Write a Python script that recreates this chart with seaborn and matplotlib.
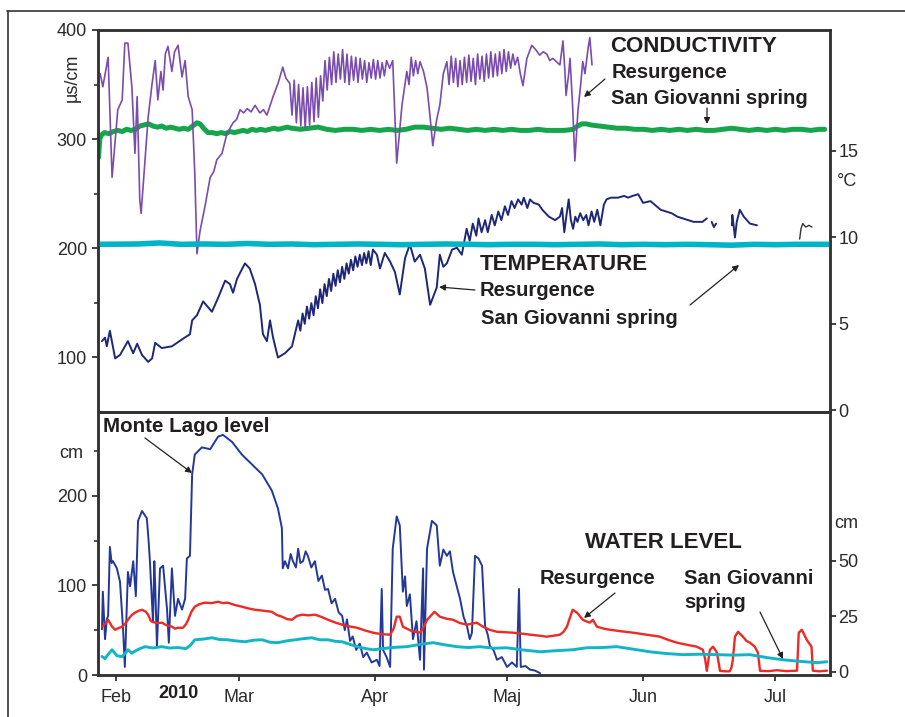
import numpy as np
import pandas as pd
import matplotlib
matplotlib.use("Agg")
import matplotlib.pyplot as plt
import matplotlib.dates as mdates
from matplotlib.ticker import FixedLocator, FuncFormatter
from matplotlib.lines import Line2D
import seaborn as sns

sns.set_theme(style="white")
plt.rcParams["font.family"] = ["Liberation Sans", "DejaVu Sans"]

# ---------------- data (days counted from 1 Feb 2010) ----------------
month_labels = ["Feb", "Mar", "Apr", "Maj", "Jun", "Jul"]

# Conductivity, Resurgence (µS/cm)
cond_res_day = [-3.5, -2.9, -1.7, -0.8, -0.1, 0.5, 1.5, 2.1, 2.8, 3.7, 4.4, 4.9, 5.5, 5.8, 6.7, 7.4, 8.3, 9.0, 9.6,
                10.3, 10.8, 11.3, 11.9, 12.8, 13.4, 14.2, 15.1, 15.8, 16.5, 17.4, 18.0, 18.5, 19.2, 20.3, 21.5, 22.3,
                23.0, 24.2, 25.3, 26.0, 26.7, 27.5, 28.3, 29.1, 29.9, 30.8, 31.7, 32.8, 33.6, 34.4, 35.8, 37.0, 38.0,
                38.7, 39.6, 40.1, 40.6, 41.1, 41.6, 42.1, 42.6, 43.1, 43.6, 44.1, 44.6, 45.1, 45.6, 46.1, 46.6, 47.1,
                47.6, 48.1, 48.6, 49.1, 49.6, 50.1, 50.6, 51.1, 51.6, 52.1, 52.6, 53.1, 53.6, 54.1, 54.6, 55.1, 55.6,
                56.1, 56.6, 57.1, 57.6, 58.1, 58.6, 59.1, 59.6, 60.1, 60.6, 61.1, 61.6, 62.3, 63.0, 63.9, 65.1, 65.6,
                66.2, 66.7, 67.2, 67.7, 68.2, 68.7, 69.2, 70.0, 70.8, 71.5, 72.1, 73.0, 73.7, 74.5, 75.3, 75.8, 76.3,
                76.8, 77.3, 77.8, 78.3, 78.8, 79.3, 79.8, 80.3, 80.8, 81.3, 81.8, 82.3, 82.8, 83.3, 83.8, 84.3, 84.8,
                85.3, 85.8, 86.3, 86.8, 87.3, 87.8, 88.3, 88.8, 89.3, 89.8, 90.3, 90.8, 91.4, 92.0, 92.6, 93.5, 94.6,
                95.5, 96.4, 97.2, 98.0, 98.7, 99.4, 100.2, 101.0, 101.7, 102.1, 102.4, 103.0, 103.3, 103.9, 104.4,
                105.1, 105.6, 106.2, 106.7, 107.4, 107.8, 108.3]
cond_res_val = [360, 348, 375, 265, 299, 327, 336, 388, 388, 348, 287, 339, 244, 232, 281, 320, 351, 372, 336,
                362, 345, 378, 385, 362, 380, 386, 357, 372, 339, 327, 269, 195, 216, 238, 265, 270,
                281, 287, 305, 310, 315, 318, 327, 324, 328, 325, 331, 324, 327, 322, 339, 352, 366,
                356, 351, 322, 354, 315, 350, 312, 347, 310, 348, 313, 352, 316, 356, 320, 358, 335,
                372, 345, 375, 350, 380, 352, 378, 355, 382, 352, 378, 350, 376, 354, 375, 352, 374,
                355, 372, 352, 370, 356, 373, 355, 372, 356, 370, 358, 372, 365, 372, 278, 331, 345,
                362, 350, 375, 358, 372, 360, 371, 362, 347, 320, 294, 318, 331, 360, 371, 350, 376,
                352, 374, 348, 372, 350, 375, 352, 377, 353, 374, 350, 378, 355, 376, 353, 378, 356,
                380, 357, 378, 358, 380, 360, 382, 362, 380, 365, 378, 368, 375, 360, 349, 374, 386,
                382, 377, 380, 378, 372, 374, 371, 368, 390, 365, 340, 360, 374, 330, 280,
                326, 345, 371, 360, 383, 393, 368]

# Conductivity, San Giovanni spring (µS/cm)
cond_sg_day = [-3.9, -3.6, -3.2, -2.5, -1.5, -0.5, 0.5, 1.5, 2.5, 3.5, 4.5, 5.5, 6.5, 7.5, 8.5, 9.5, 10.5, 11.5,
               12.5, 13.5, 14.5, 15.5, 16.5, 17.5, 18.5, 19.2, 20.0, 21.0, 22.0, 23.0, 24.0, 25.0, 26.0, 27.0, 28.0,
               29.0, 30.0, 31.0, 32.0, 33.0, 34.0, 35.0, 36.0, 37.0, 38.0, 39.0, 40.0, 42, 44, 46, 48, 50, 52, 54,
               56, 58, 60, 62, 64, 66, 68, 70, 72, 74, 76, 78, 80, 82, 84, 86, 88, 90, 92, 94, 96, 98, 100, 102,
               104, 105, 106, 107, 108, 110, 112, 114, 116, 118, 120, 122, 124, 126, 128, 130, 132, 134, 136, 138,
               140, 142, 144, 146, 148, 150, 152, 154, 156, 158, 160, 161.2]
cond_sg_val = [283, 300, 304, 306, 305, 307, 308, 307, 309, 308, 309, 312, 313, 314, 312, 311, 312, 310,
               311, 310, 309, 310, 309, 312, 315, 314, 310, 306, 306, 305, 306, 305, 307, 306, 307,
               308, 307, 309, 308, 309, 308, 309, 310, 309, 310, 311, 310, 309, 310, 311, 309, 308, 309, 309,
               308, 309, 308, 309, 308, 309, 311, 311, 310, 309, 310, 309, 308, 309, 308, 309, 308, 309, 308,
               308, 309, 308, 308, 308, 309, 312, 314, 314, 313, 312, 311, 310, 310, 309, 309, 308, 309, 308,
               309, 308, 309, 308, 308, 309, 310, 309, 308, 309, 308, 309, 308, 309, 309, 308, 309, 309]

# Temperature, Resurgence (°C) – four recorded segments
temp_res_day1 = [-3.1, -2.4, -2.0, -1.3, -0.1, 1.0, 2.8, 4.0, 4.9, 6.0, 7.4, 8.3, 9.0, 10.5, 12.8, 15.1, 16.9, 17.4,
                 18.5, 19.9, 21.9, 23.3, 24.9, 26.0, 26.7, 27.6, 29.4, 30.5, 31.7, 32.8, 33.5, 34.4, 35.1, 35.8,
                 36.9, 38.5, 40.1, 41.5, 42.0, 42.5, 43.0, 43.5, 44.0, 44.5, 45.0, 45.5, 46.0, 46.5, 47.0, 47.5,
                 48.0, 48.5, 49.0, 49.5, 50.0, 50.5, 51.0, 51.5, 52.0, 52.5, 53.0, 53.5, 54.0, 54.5, 55.0, 55.5,
                 56.0, 56.5, 57.0, 57.5, 58.0, 58.5, 59.4, 60.1, 61.2, 62.4, 63.5, 64.6, 65.8, 66.9, 68.0, 69.2,
                 70.3, 71.5, 73.0, 73.7, 74.5, 75.3, 76.5, 77.6, 78.7, 79.8, 80.5, 81.2, 82.0, 82.5, 83.2, 84.0,
                 84.6, 85.5, 86.2, 87.0, 87.7, 88.5, 89.2, 90.0, 90.7, 91.5, 92.3, 92.8, 93.6, 94.2, 95.0, 96.2,
                 97.0, 98.5, 99.9, 101.0, 101.5, 102.0, 102.5, 103.0, 103.5, 104.0, 104.5, 105.0, 105.6, 106.3,
                 107.0, 107.5, 108.2, 108.8, 109.5, 110.2, 111.0, 111.6, 112.6, 114.2, 115.6, 116.5, 117.5, 118.8,
                 119.9, 121.6, 123.9, 126.4, 127.7, 131.4, 133.4, 134.4]
temp_res_val1 = [4.0, 4.2, 3.7, 4.6, 3.0, 3.2, 4.0, 3.3, 3.85, 3.2, 2.8, 3.0, 3.9, 3.6, 3.7, 4.1, 4.4, 5.2,
                 5.5, 6.3, 5.7, 6.5, 7.5, 7.3, 6.8, 7.6, 8.5, 8.2, 7.3, 6.1, 4.4, 4.0, 5.2, 4.2,
                 3.05, 3.3, 3.7, 5.2, 4.6, 5.6, 5.0, 6.0, 5.3, 6.2, 5.5, 6.6, 5.9, 7.0, 6.2, 7.3,
                 6.6, 7.6, 6.9, 7.9, 7.2, 8.1, 7.4, 8.3, 7.6, 8.5, 7.9, 8.7, 8.1, 8.9, 8.3, 9.0,
                 8.4, 9.1, 8.5, 9.2, 8.4, 9.3, 9.0, 8.2, 9.1, 8.6, 8.0, 6.7, 8.8, 9.6, 8.6, 9.0,
                 8.2, 6.1, 7.1, 9.0, 8.3, 8.5, 9.3, 9.4, 9.0, 10.5, 9.8, 10.8, 10.1, 11.1, 10.3, 11.0,
                 10.3, 11.3, 10.7, 11.5, 11.0, 11.8, 11.3, 12.1, 11.7, 12.2, 11.9, 12.3, 11.7, 12.2, 12.0, 11.9,
                 11.6, 11.2, 11.0, 11.2, 11.7, 10.3, 11.3, 12.2, 11.0, 10.5, 11.2, 10.9, 11.4, 11.0,
                 11.3, 10.7, 11.5, 10.9, 11.6, 10.7, 11.9, 12.2, 12.3, 12.3, 12.4, 12.3, 12.4, 12.5,
                 12.0, 12.1, 11.6, 11.4, 11.2, 10.9, 10.9, 11.1]
temp_res_day2 = [135.5, 136.0, 136.5]
temp_res_val2 = [10.9, 10.6, 10.8]
temp_res_day3 = [140.1, 140.2, 140.8, 141.2, 141.9, 142.8, 144.2, 145.8]
temp_res_val3 = [10.7, 11.3, 10.0, 10.9, 11.6, 11.2, 10.8, 10.7]
temp_res_day4 = [155.5, 155.8, 156.2, 156.9, 157.6, 158.3]
temp_res_val4 = [9.9, 10.5, 10.8, 10.6, 10.7, 10.6]

# Temperature, San Giovanni spring (°C)
temp_sg_day = [-4.0, 5, 10, 15, 20, 25, 30, 35, 40, 45, 50, 55, 60, 65, 70, 75, 80, 85, 90, 95, 100, 105, 110, 115,
               120, 125, 130, 135, 140, 145, 150, 155, 162.4]
temp_sg_val = [9.6, 9.62, 9.68, 9.6, 9.62, 9.6, 9.65, 9.6, 9.62, 9.58, 9.6, 9.62, 9.6, 9.58, 9.6, 9.62, 9.6, 9.58,
               9.6, 9.6, 9.58, 9.6, 9.62, 9.58, 9.6, 9.58, 9.6, 9.58, 9.55, 9.6, 9.58, 9.6, 9.6]

# Water level, Monte Lago (cm, left axis)
lago_day = [-3.1, -2.9, -2.4, -2.0, -1.7, -1.3, -0.9, -0.6, 0.3, 1.0, 1.7, 2.1, 2.8, 3.3, 4.0, 4.6, 5.1, 6.0,
            7.1, 7.5, 7.8, 8.5, 8.8, 9.0, 9.4, 10.1, 10.8, 11.2, 11.7, 12.1, 12.8, 13.5, 14.2, 15.1, 15.8, 16.2,
            16.9, 17.4, 18.0, 19.6, 21.5, 23.3, 24.4, 26.5, 28.7, 31.0, 33.3, 35.5, 36.9, 37.8, 38.0, 38.5, 39.2,
            39.8, 40.3, 41.0, 41.5, 42.0, 42.6, 43.2, 43.7, 44.5, 45.3, 46.1, 46.9, 47.6, 48.3, 49.1, 49.9, 50.7,
            51.5, 52.1, 52.6, 53.3, 53.9, 54.7, 55.5, 56.3, 57.1, 58.2, 59.4, 60.0, 60.5, 60.8, 61.6, 62.4, 63.0,
            63.9, 64.6, 65.3, 65.8, 66.2, 66.9, 67.6, 68.4, 69.2, 69.9, 70.1, 70.8, 71.9, 73.0, 73.7, 74.5, 75.3,
            76.0, 76.7, 77.5, 78.3, 79.1, 79.9, 80.5, 81.0, 81.7, 82.5, 83.3, 84.0, 84.6, 85.1, 85.9, 86.7, 87.8,
            89.0, 90.1, 91.2, 91.7, 92.1, 93.2, 94.2, 95.3, 96.5]
lago_val = [51, 93, 40, 62, 66, 143, 125, 127, 119, 104, 51, 9, 115, 99, 127, 88, 172, 183,
            175, 150, 127, 59, 127, 100, 32, 119, 122, 100, 73, 36, 119, 66, 85, 73, 85, 130,
            133, 224, 246, 254, 252, 266, 268, 260, 246, 235, 224, 206, 186, 164, 119, 127, 119,
            135, 127, 120, 141, 125, 127, 138, 133, 120, 127, 105, 111, 95, 96, 80, 85, 70,
            66, 50, 62, 38, 43, 28, 35, 20, 25, 14, 17, 10, 96, 28, 20, 9, 141,
            177, 167, 93, 110, 77, 90, 40, 60, 17, 119, 6, 141, 172, 167, 122, 140, 133,
            138, 115, 100, 85, 65, 54, 40, 47, 133, 130, 122, 54, 45, 32, 28, 17, 20,
            9, 14, 9, 96, 9, 10, 6, 5, 2]

# Water level, Resurgence (cm, right axis)
res_day = [-3.1, -2.4, -1.7, -0.8, -0.1, 0.7, 1.5, 2.2, 2.8, 3.6, 4.4, 5.2, 6.0, 6.8, 7.4, 8.0, 8.3, 9.4, 10.5,
           11.6, 12.8, 13.5, 14.2, 15.3, 16.0, 16.5, 17.2, 18.0, 19.0, 20.3, 21.8, 23.3, 24.4, 25.5, 27.0, 28.7,
           30.2, 31.7, 33.5, 35.5, 36.7, 37.8, 39.0, 40.1, 41.2, 42.4, 43.8, 45.3, 46.8, 48.3, 50.0, 51.5, 53.2,
           54.9, 56.7, 58.5, 60.5, 62.4, 63.2, 63.9, 64.6, 65.3, 67.2, 69.2, 70.0, 70.8, 72.5, 73.7, 75.2, 76.7,
           78.3, 79.9, 82.1, 83.5, 85.0, 86.7, 88.5, 90.3, 92.2, 94.2, 96.1, 98.0, 99.5, 101.0, 101.8, 102.6,
           103.2, 103.9, 104.9, 106.2, 107.0, 107.8, 108.5, 109.4, 111.0, 112.4, 115.0, 117.6, 120.6, 123.7,
           125.7, 127.6, 130.0, 132.1, 133.5, 134.0, 134.4, 134.8, 135.1, 135.8, 136.3, 136.7, 137.4, 138.5,
           139.6, 140.0, 140.3, 140.8, 141.5, 142.6, 143.4, 144.2, 145.3, 146.0, 146.5, 148.5, 150.3, 152.5,
           154.9, 155.3, 156.0, 157.1, 158.2, 158.5, 160.0, 161.7]
res_val = [20.4, 21.5, 23.5, 20.4, 19.0, 19.8, 20.4, 21.8, 23.5, 25.5, 26.7, 27.5, 28.0, 27.2, 25.8, 23.0, 22.6,
           22.0, 22.2, 21.0, 20.4, 19.5, 19.9, 19.9, 21.5, 23.5, 27.0, 29.4, 30.5, 31.2, 31.0, 31.6, 31.0, 31.2,
           30.2, 29.4, 28.6, 28.0, 27.6, 27.1, 25.6, 24.9, 23.8, 23.5, 25.2, 25.8, 25.5, 25.8, 24.8, 23.5, 22.2,
           21.3, 20.5, 19.9, 18.7, 17.7, 17.0, 16.8, 19.5, 24.9, 24.9, 20.4, 18.5, 17.7, 20.0, 23.5, 27.1, 24.9,
           24.0, 23.5, 22.0, 21.3, 22.2, 20.4, 19.0, 18.1, 17.9, 17.7, 17.3, 16.8, 16.4, 15.9, 16.3, 16.8, 18.0,
           20.4, 24.0, 28.0, 26.7, 23.5, 22.8, 22.2, 23.5, 20.4, 19.5, 19.0, 18.3, 17.7, 16.8, 15.9, 14.4, 13.2,
           12.2, 11.4, 10.0, 6.0, 0.5, 6.0, 10.0, 11.4, 10.0, 8.7, 0.5, 0.3, 0.3, 2.0, 5.5, 15.9, 18.1, 15.9,
           14.0, 13.2, 11.4, 8.7, 0.5, 0.4, 0.8, 0.4, 0.6, 17.7, 19.0, 14.5, 11.4, 0.6, 0.3, 0.6]

# Water level, San Giovanni spring (cm, right axis)
sgw_day = [-3.1, -2.4, -1.7, -0.8, 0.3, 1.5, 2.2, 2.8, 3.7, 4.6, 5.5, 6.7, 8.5, 10.5, 12.3, 14.2, 16.0, 17.0, 18.0,
           19.9, 21.9, 23.7, 25.5, 27.4, 29.4, 31.3, 33.3, 35.1, 36.9, 38.9, 40.8, 42.7, 44.6, 46.4, 48.3, 50.0,
           51.5, 53.2, 54.9, 56.7, 58.5, 60.5, 62.4, 64.3, 66.2, 69.2, 72.2, 74.9, 77.6, 80.2, 82.8, 85.9, 88.9,
           92.7, 96.5, 100.2, 103.9, 107.1, 110.5, 113.9, 117.6, 121.4, 125.2, 129.0, 132.8, 136.7, 140.5, 144.2,
           148.0, 151.7, 155.5, 159.4, 161.7]
sgw_val = [7.0, 6.0, 8.0, 10.0, 7.3, 6.9, 8.5, 10.0, 8.5, 9.6, 10.5, 11.4, 10.8, 11.4, 10.8, 11.0, 10.5, 12.0, 14.5,
           14.8, 15.4, 14.6, 14.5, 14.0, 13.6, 14.3, 14.5, 13.4, 13.2, 14.0, 14.5, 15.0, 15.4, 14.5, 14.5, 13.8,
           13.6, 12.5, 11.4, 10.6, 10.0, 10.5, 10.9, 11.2, 11.4, 12.4, 13.2, 12.2, 11.4, 11.0, 11.4, 10.7, 10.9,
           9.9, 9.1, 9.6, 10.0, 10.9, 11.0, 11.4, 10.3, 9.1, 8.3, 7.8, 8.0, 7.8, 7.6, 7.8,
           6.5, 5.5, 4.8, 4.2, 4.6]

# ---------------- helpers ----------------
START = pd.Timestamp("2010-02-01")


def dates(days):
    return START + pd.to_timedelta(np.asarray(days, dtype=float), unit="D")


W, H = 905, 717
fig = plt.figure(figsize=(W / 100, H / 100), dpi=100)
fig.patch.set_facecolor("white")


def F(x, y):
    return (x / W, 1 - y / H)


TXT = "#231f20"
SP = "#333333"

ax1 = fig.add_axes([98 / W, 1 - 412 / H, 732 / W, 382 / H])
ax2 = ax1.twinx()
ax3 = fig.add_axes([98 / W, 1 - 675 / H, 732 / W, 263 / H], sharex=ax1)
ax4 = ax3.twinx()
for a in (ax1, ax2, ax3, ax4):
    a.set_facecolor("none")
    a.grid(False)


def line(ax, d, v, color, lw):
    sns.lineplot(x=dates(d), y=v, ax=ax, color=color, lw=lw, estimator=None,
                 sort=False, legend=False)


# upper panel
line(ax1, cond_sg_day, cond_sg_val, "#16a54a", 3.6)
line(ax1, cond_res_day, cond_res_val, "#7a4cae", 1.2)
line(ax2, temp_res_day1, temp_res_val1, "#1f2777", 1.4)
line(ax2, temp_res_day2, temp_res_val2, "#1f2777", 1.4)
line(ax2, temp_res_day3, temp_res_val3, "#1f2777", 1.4)
line(ax2, temp_res_day4, temp_res_val4, "#333333", 1.0)
line(ax2, temp_sg_day, temp_sg_val, "#00b4c8", 4.0)

# lower panel
line(ax3, lago_day, lago_val, "#24389a", 1.4)
line(ax4, res_day, res_val, "#ee2a24", 1.7)
line(ax4, sgw_day, sgw_val, "#12b5c6", 2.1)

xmin, xmax = dates([-4.0, 162.4])
ax1.set_xlim(xmin, xmax)

ax1.set_ylim(50, 400)
ax2.set_ylim(-0.1, 22.0)
ax3.set_ylim(0, 293.5)
ax4.set_ylim(-1.35, 117)

for a in (ax1, ax2, ax3, ax4):
    a.set_xlabel("")
    a.set_ylabel("")
    for s in a.spines.values():
        s.set_color(SP)
        s.set_linewidth(1.8)

ax1.yaxis.set_major_locator(FixedLocator([100, 200, 300, 400]))
ax1.yaxis.set_minor_locator(FixedLocator([150, 250, 350]))
ax2.yaxis.set_major_locator(FixedLocator([0, 5, 10, 15]))
ax3.yaxis.set_major_locator(FixedLocator([0, 100, 200]))
ax3.yaxis.set_minor_locator(FixedLocator([50, 150, 250]))
ax4.yaxis.set_major_locator(FixedLocator([0, 25, 50]))

ax3.xaxis.set_major_locator(mdates.MonthLocator())
ax3.xaxis.set_major_formatter(FuncFormatter(
    lambda v, p: month_labels[mdates.num2date(v).month - 2]
    if 2 <= mdates.num2date(v).month <= 7 else ""))

tk = dict(colors=SP, labelcolor="#2a2a2a", labelsize=13, width=1.3)
ax1.tick_params(axis="y", which="major", direction="out", length=4, pad=4, left=True, **tk)
ax1.tick_params(axis="y", which="minor", direction="out", length=3, left=True, colors=SP, width=1.2)
ax1.tick_params(axis="x", which="both", bottom=False, labelbottom=False)
ax2.tick_params(axis="y", which="major", direction="out", length=4, pad=2, right=True, **tk)
ax3.tick_params(axis="y", which="major", direction="out", length=4, pad=4, left=True, **tk)
ax3.tick_params(axis="y", which="minor", direction="out", length=3, left=True, colors=SP, width=1.2)
ax3.tick_params(axis="x", which="major", direction="out", length=4, pad=6, bottom=True, **tk)
ax4.tick_params(axis="y", which="major", direction="out", length=4, pad=2, right=True, **tk)

# axis unit labels
fig.text(*F(72, 78), "µs/cm", rotation=90, ha="center", va="center", fontsize=13, color="#2a2a2a")
fig.text(*F(847, 182), "°C", ha="center", va="center", fontsize=13, color="#2a2a2a")
fig.text(*F(71, 453), "cm", ha="center", va="center", fontsize=13, color="#2a2a2a")
fig.text(*F(846, 524), "cm", ha="center", va="center", fontsize=13, color="#2a2a2a")
fig.text(*F(178, 694), "2010", ha="center", va="center", fontsize=13, fontweight="bold", color=TXT)


# annotations
def label(x, y, s, size=14.6):
    fig.text(*F(x, y), s, ha="left", va="center", fontsize=size, fontweight="bold", color=TXT)


def arrow(x0, y0, x1, y1):
    fig.add_artist(matplotlib.patches.FancyArrowPatch(
        F(x0, y0), F(x1, y1), transform=fig.transFigure, arrowstyle="-|>",
        mutation_scale=9, color="#222222", lw=0.9, shrinkA=0, shrinkB=0))


label(610, 47, "CONDUCTIVITY", 16)
label(612, 73, "Resurgence")
label(611, 99, "San Giovanni spring")
arrow(605, 79, 584, 97)
arrow(707, 108, 707, 124)

label(480, 265, "TEMPERATURE", 16)
label(480, 291, "Resurgence")
label(481, 319, "San Giovanni spring")
arrow(475, 290, 439, 287)
arrow(690, 305, 739, 265)

label(103, 426, "Monte Lago level", 14.8)
arrow(145, 438, 192, 473)

label(585, 543, "WATER LEVEL", 16)
label(540, 578, "Resurgence")
arrow(615, 593, 584, 618)
label(684, 578, "San Giovanni")
label(684, 603, "spring")
arrow(760, 612, 783, 659)

# outer frame (top and left)
fig.add_artist(Line2D([7 / W, 1.0], [1 - 11 / H] * 2, transform=fig.transFigure, color=SP, lw=1.2))
fig.add_artist(Line2D([7.5 / W] * 2, [1 - 11 / H, 0.0], transform=fig.transFigure, color=SP, lw=1.2))

fig.savefig("out.png", dpi=100, facecolor="white")
